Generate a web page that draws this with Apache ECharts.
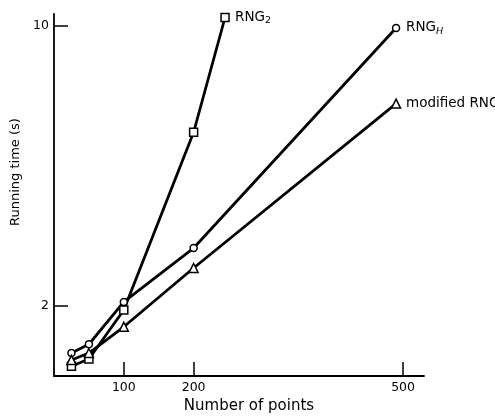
<!DOCTYPE html>
<html>
<head>
<meta charset="utf-8">
<title>Running time vs number of points</title>
<script src="https://cdn.jsdelivr.net/npm/echarts@6/dist/echarts.min.js"></script>
<style>
    html, body { margin: 0; padding: 0; background: #fff; }
    #chart { width: 495px; height: 419px; }
</style>
</head>
<body>
<div id="chart"></div>
<script>
// 数据
const pointsX = [25, 50, 100, 200, 490];
const rng2X = [25, 50, 100, 200, 245];
const rng2Time = [0.28, 0.49, 1.89, 6.97, 10.25];
const rngHTime = [0.66, 0.91, 2.12, 3.66, 9.95];
const modifiedTime = [0.46, 0.66, 1.41, 3.09, 7.79];
const xTickValues = [100, 200, 500];
const yTickValues = [2, 10];

const FONT = '"DejaVu Sans", Arial, sans-serif';

/**
 * 组合 [x, y] 点对
 */
function toPairs(xs, ys) {
    return xs.map((x, i) => [x, ys[i]]);
}

/**
 * 生成一个系列
 */
function makeSeries(name, xs, ys, symbol, size, labelText) {
    return {
        name: name,
        type: 'line',
        data: toPairs(xs, ys),
        symbol: symbol,
        symbolSize: size,
        showAllSymbol: true,
        lineStyle: { color: '#000', width: 2.8 },
        itemStyle: { color: '#fff', borderColor: '#000', borderWidth: 1.5 },
        z: 3,
        endLabel: {
            show: true,
            distance: 10,
            formatter: () => labelText,
            color: '#000',
            fontFamily: FONT,
            fontSize: 13.5,
            rich: {
                sub: { fontSize: 9.5, verticalAlign: 'bottom', padding: [7, 0, 0, 0], fontFamily: FONT },
                subi: { fontSize: 9.5, fontStyle: 'italic', verticalAlign: 'bottom', padding: [7, 0, 0, 0], fontFamily: FONT }
            }
        },
        emphasis: { disabled: true },
        animation: false
    };
}

const chart = echarts.init(document.getElementById('chart'));

const option = {
    backgroundColor: '#fff',
    animation: false,
    grid: { left: 54, right: 71, top: 14, bottom: 41 },
    xAxis: {
        type: 'value',
        min: 0,
        max: 530,
        name: 'Number of points',
        nameLocation: 'middle',
        nameGap: 22,
        nameTextStyle: { color: '#000', fontFamily: FONT, fontSize: 15, padding: [0, 0, 0, 20] },
        axisLine: { lineStyle: { color: '#000', width: 1.8 } },
        axisTick: { show: true, inside: true, length: 14, customValues: xTickValues, lineStyle: { color: '#000', width: 1.5 } },
        axisLabel: { customValues: xTickValues, color: '#000', fontFamily: FONT, fontSize: 12.5, margin: 5 },
        splitLine: { show: false }
    },
    yAxis: {
        type: 'value',
        min: 0,
        max: 10.35,
        name: 'Running time (s)',
        nameLocation: 'middle',
        nameGap: 26,
        nameTextStyle: { color: '#000', fontFamily: FONT, fontSize: 13, padding: [0, 0, 0, 46] },
        axisLine: { show: true, lineStyle: { color: '#000', width: 1.8 } },
        axisTick: { show: true, inside: true, length: 14, customValues: yTickValues, lineStyle: { color: '#000', width: 1.5 } },
        axisLabel: { customValues: yTickValues, color: '#000', fontFamily: FONT, fontSize: 12.5, margin: 5 },
        splitLine: { show: false }
    },
    series: [
        makeSeries('RNG2', rng2X, rng2Time, 'rect', 8, 'RNG{sub|2}'),
        makeSeries('RNGH', pointsX, rngHTime, 'circle', 7, 'RNG{subi|H}'),
        makeSeries('modified RNG', pointsX, modifiedTime, 'triangle', 9, 'modified RNG')
    ]
};

chart.setOption(option);
</script>
</body>
</html>
